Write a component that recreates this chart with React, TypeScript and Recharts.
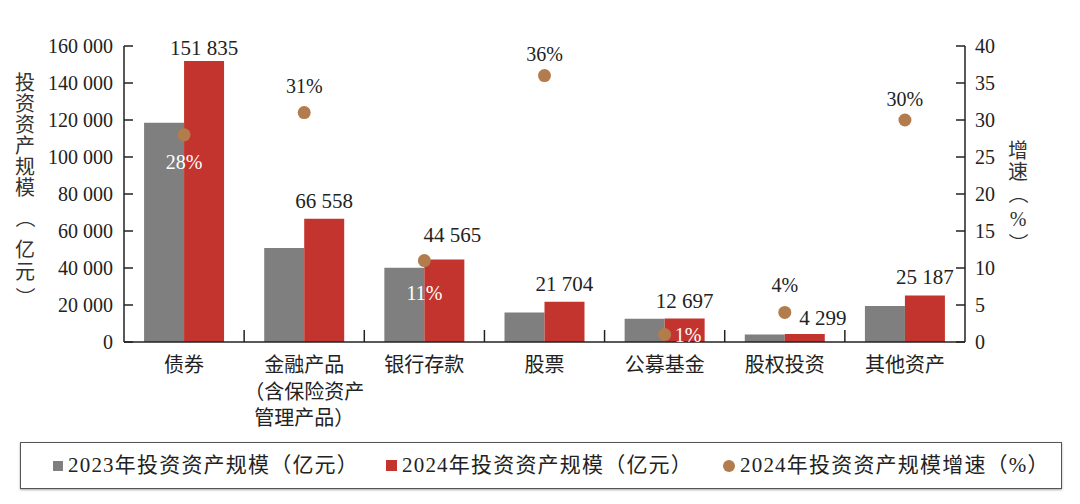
import React from 'react';
import { ComposedChart, Bar, Line, XAxis, YAxis, LabelList } from 'recharts';

// ---------- data ----------
const categories = ['债券', '金融产品\n（含保险资产\n管理产品）', '银行存款', '股票', '公募基金', '股权投资', '其他资产'];
const values2023 = [118500, 50800, 40100, 15900, 12600, 4100, 19400];
const values2024 = [151835, 66558, 44565, 21704, 12697, 4299, 25187];
const growth2024 = [28, 31, 11, 36, 1, 4, 30];
const leftTicks = [0, 20000, 40000, 60000, 80000, 100000, 120000, 140000, 160000];
const rightTicks = [0, 5, 10, 15, 20, 25, 30, 35, 40];
const seriesNames = ['2023年投资资产规模（亿元）', '2024年投资资产规模（亿元）', '2024年投资资产规模增速（%）'];
const leftTitle = '投资资产规模（亿元）';
const rightTitle = '增速（%）';

const data = categories.map((c, i) => ({
  name: c,
  v2023: values2023[i],
  v2024: values2024[i],
  g: growth2024[i],
}));

// ---------- styles ----------
const GREY = '#7f7f7f';
const RED = '#c4342e';
const BROWN = '#b27c4c';
const INK = '#222222';
const FONT = "'Liberation Serif', 'Noto Sans CJK SC', serif";
const CJK = "'Noto Sans CJK SC', sans-serif";

const PLOT_LEFT = 124;
const PLOT_RIGHT = 965;
const PLOT_TOP = 46;
const PLOT_BOTTOM = 342;
const CHART_H = 442;

const fmt = (n: number) => String(n).replace(/\B(?=(\d{3})+(?!\d))/g, ' ');

// label nudges (layout only)
const barLabelNudge: Record<number, [number, number]> = { 0: [0, 5], 2: [8, -7], 5: [18, 2] };
const growthLabelOffset: [number, number][] = [
  [0, 27], [0, -27], [0, 32], [0, -22], [24, 0], [0, -27], [0, -21],
];

const LeftTick = (props: any) => {
  const { x, y, payload } = props;
  return (
    <g>
      <line x1={PLOT_LEFT} x2={PLOT_LEFT + 9} y1={y} y2={y} stroke={INK} strokeWidth={1.5} />
      <text x={x} y={y} textAnchor="end" dominantBaseline="central" fontSize={20} fill={INK} fontFamily={FONT}>
        {fmt(payload.value)}
      </text>
    </g>
  );
};

const RightTick = (props: any) => {
  const { x, y, payload } = props;
  return (
    <g>
      <line x1={PLOT_RIGHT} x2={PLOT_RIGHT - 9} y1={y} y2={y} stroke={INK} strokeWidth={1.5} />
      <text x={x} y={y} textAnchor="start" dominantBaseline="central" fontSize={20} fill={INK} fontFamily={FONT}>
        {payload.value}
      </text>
    </g>
  );
};

const CatTick = (props: any) => {
  const { x, y, payload, index } = props;
  const bw = (PLOT_RIGHT - PLOT_LEFT) / categories.length;
  const lines = String(payload.value).split('\n');
  return (
    <g>
      {index < categories.length - 1 && (
        <line x1={x + bw / 2} x2={x + bw / 2} y1={PLOT_BOTTOM} y2={PLOT_BOTTOM - 12} stroke={INK} strokeWidth={1.5} />
      )}
      {lines.map((l, i) => (
        <text key={i} x={x} y={y + 30 + i * 26.5} textAnchor="middle" fontSize={20} fill={INK} fontFamily={FONT}>
          {l}
        </text>
      ))}
    </g>
  );
};

const BarValueLabel = (props: any) => {
  const { x, y, width, value, index } = props;
  const n = barLabelNudge[index] || [0, 0];
  return (
    <text x={x + width / 2 + n[0]} y={y - 11 + n[1]} textAnchor="middle" fontSize={21} fill={INK} fontFamily={FONT}>
      {fmt(value)}
    </text>
  );
};

const GrowthLabel = (props: any) => {
  const { x, y, value, index } = props;
  const [dx, dy] = growthLabelOffset[index] || [0, -25];
  const inside = dx > 0 || dy > 0;
  return (
    <text
      x={dx > 0 ? x + dx - 14 : x}
      y={y + dy + 7}
      textAnchor={dx > 0 ? 'start' : 'middle'}
      fontSize={20}
      fill={inside ? '#ffffff' : INK}
      fontFamily={FONT}
    >
      {value}%
    </text>
  );
};

// vertical (stacked) title in one text element; parentheses rotated like vertical typesetting
const VerticalTitle = ({ text, cx, ys }: { text: string; cx: number; ys: number[] }) => (
  <text fontSize={20} fill="#333" fontFamily={CJK}>
    {Array.from(text).map((ch, i) => {
      const Y = ys[i];
      if (ch === '（') {
        return <tspan key={i} x={cx - 7} y={Y - 15} rotate="90">{ch}</tspan>;
      }
      if (ch === '）') {
        return <tspan key={i} x={cx - 7} y={Y - 5} rotate="90">{ch}</tspan>;
      }
      if (ch === '%') {
        return <tspan key={i} x={cx - 8.3} y={Y + 7} fontFamily={FONT}>{ch}</tspan>;
      }
      return <tspan key={i} x={cx - 10} y={Y + 7}>{ch}</tspan>;
    })}
  </text>
);

const legendText: React.CSSProperties = {
  position: 'absolute', top: 9, lineHeight: '26px', whiteSpace: 'nowrap', fontSize: 21, letterSpacing: 1.2,
};

export default function App() {
  return (
    <div style={{ position: 'absolute', left: 0, top: 0, width: 1080, height: 504, background: '#fff', fontFamily: FONT }}>
      <ComposedChart
        width={1080}
        height={CHART_H}
        data={data}
        margin={{ top: PLOT_TOP, right: 0, bottom: 0, left: 0 }}
        barCategoryGap="16.7%"
        barGap={0}
      >
        <XAxis
          dataKey="name"
          interval={0}
          height={CHART_H - PLOT_BOTTOM}
          tickSize={0}
          tickMargin={0}
          tickLine={false}
          axisLine={{ stroke: INK, strokeWidth: 1.5 }}
          tick={<CatTick />}
        />
        <YAxis
          yAxisId="left"
          width={PLOT_LEFT}
          domain={[0, 160000]}
          ticks={leftTicks}
          interval={0}
          tickSize={0}
          tickMargin={11}
          tickLine={false}
          axisLine={{ stroke: INK, strokeWidth: 1.5 }}
          tick={<LeftTick />}
        />
        <YAxis
          yAxisId="right"
          orientation="right"
          width={1080 - PLOT_RIGHT}
          domain={[0, 40]}
          ticks={rightTicks}
          interval={0}
          tickSize={0}
          tickMargin={10}
          tickLine={false}
          axisLine={{ stroke: INK, strokeWidth: 1.5 }}
          tick={<RightTick />}
        />
        <Bar yAxisId="left" dataKey="v2023" name={seriesNames[0]} fill={GREY} isAnimationActive={false} />
        <Bar yAxisId="left" dataKey="v2024" name={seriesNames[1]} fill={RED} isAnimationActive={false}>
          <LabelList dataKey="v2024" content={<BarValueLabel />} />
        </Bar>
        <Line
          yAxisId="right"
          dataKey="g"
          name={seriesNames[2]}
          stroke="none"
          dot={{ r: 6.5, fill: BROWN, stroke: 'none' }}
          activeDot={false}
          isAnimationActive={false}
        >
          <LabelList dataKey="g" content={<GrowthLabel />} />
        </Line>
        <VerticalTitle text={leftTitle} cx={25} ys={[83, 104, 125, 146, 167, 188, 223, 250, 272, 292]} />
        <VerticalTitle text={rightTitle} cx={1018} ys={[151, 172, 199, 219, 238]} />
      </ComposedChart>

      {/* legend */}
      <div
        style={{
          position: 'absolute', left: 20, top: 442, width: 1040, height: 45,
          border: '1.5px solid #555', boxShadow: '0 1px 2px rgba(0,0,0,0.35)', color: INK,
        }}
      >
        <div style={{ position: 'absolute', left: 32, top: 18, width: 10, height: 10, background: GREY }} />
        <div style={{ ...legendText, left: 47 }}>{seriesNames[0]}</div>
        <div style={{ position: 'absolute', left: 365, top: 17, width: 11, height: 11, background: RED }} />
        <div style={{ ...legendText, left: 381 }}>{seriesNames[1]}</div>
        <div style={{ position: 'absolute', left: 702, top: 17, width: 12, height: 12, borderRadius: 6, background: BROWN }} />
        <div style={{ ...legendText, left: 719 }}>{seriesNames[2]}</div>
      </div>
    </div>
  );
}
